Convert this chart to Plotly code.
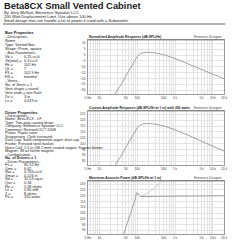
import math
import plotly.graph_objects as go

W = H = 240

# ---------------- data ----------------
doc_title = "Beta8CX Small Vented Cabinet"
doc_sub = [
    "By Jerry McNutt, Eminence Speaker LLC",
    "200 Watt Displacement Limit. Use above 100 Hz.",
    "Small design that can handle a lot of power if used with a Subwoofer.",
]

box_head = "Box Properties"
box_desc = ["--Description--", "Name:", "Type: Vented Box", "Shape: Prism, square", "--Box Parameters--"]
box_names = ["Vb =", "Vb(stat) =", "Fb =", "QL =", "F3 =", "Fill ="]
box_vals = ["0.25 cu.ft", "0.3 cu.ft", "102 Hz", "7", "102.9 Hz", "minimal"]
vent_desc = ["--Vents--", "No. of Vents = 1", "Vent shape = round", "Vent ends = one flush"]
vent_names = ["Dv =", "Lv ="]
vent_vals = ["3 in", "4.619 in"]

drv_head = "Driver Properties"
drv_desc = ["--Description--", "Name: Beta-8CX - LF", "Type: Two-way coaxial driver",
            "Company: Eminence Speaker LLC", "Comment: Revised OCT 2008", "Piston: Paper cone.",
            "Suspension: Cloth surround.", "Dust Cap: Solid composition paper dust cap.",
            "Frame: Pressed steel basket.",
            "Voice Coil: 1.5 in (38.1 mm) coated copper, Kapton former",
            "Magnet: 38 oz ferrite magnet.", "--Configuration--"]
drv_config = "No. of Drivers = 1"
drv_param_head = "--Driver Parameters--"
drv_names = ["Fs =", "Qms =", "Vas =", "Xmax =", "Sd =", "Qes =", "Re =", "Le =", "Z =", "Pe ="]
drv_vals = ["65.52 Hz", "6.62", "0.706 cu.ft", "0.126 in", "32.53 sq.in", "0.34",
            "5.58 ohms", "0.85 mH", "8 ohms", "250 watts"]

chart_titles = ["Normalized Amplitude Response (dB-SPL/Hz)",
                "Custom Amplitude Response (dB-SPL/Hz at 1 m) with 200 watts",
                "Maximum Acoustic Power (dB-SPL/Hz at 1 m)"]
brand = "Eminence Designer"

grid_freqs = [5, 6, 7, 8, 9, 10, 20, 30, 40, 50, 60, 70, 80, 90, 100, 200, 300, 400, 500,
              600, 700, 800, 900, 1000, 2000, 3000, 4000, 5000, 6000, 7000, 8000, 9000,
              10000, 20000]
freq_labels = {5: "5 Hz", 10: "10", 50: "50", 100: "100", 500: "500", 1000: "1 k",
               5000: "5 k", 10000: "10 k", 20000: "20 k"}

y1_ticks = [-30, -25, -20, -15, -10, -5, 0, 5, 10]
y2_ticks = [85, 90, 95, 100, 105, 110, 115, 120, 125]
y3_ticks = [90, 95, 100, 105, 110, 115, 120, 125, 130]

resp_freq = [25, 30, 40, 50, 60, 70, 80, 100, 120, 150, 200, 300, 500, 1000, 2000, 5000, 10000, 20000]
norm_db = [-34, -30.5, -24, -18, -13.5, -9.5, -6, -1.5, 1, 2.2, 2.3, 1.8, 0.3, -3, -7, -12.5, -16.5, -20.3]
spl200_db = [80.8, 84.3, 90.8, 96.8, 101.3, 105.3, 108.8, 113.3, 115.8, 117, 117.1, 116.6, 115.1,
             111.8, 107.8, 102.3, 98.3, 93.5]

maxspl_freq = [44, 50, 60, 70, 80, 90, 96, 105, 115, 122, 20000]
maxspl_db = [86.5, 92, 100, 106.5, 112, 117.5, 122.5, 122, 120, 119.3, 120]
exc_freq = [122, 135, 160, 200, 300, 400, 470]
exc_db = [119.3, 119.8, 121, 123, 127, 130.5, 133.5]

# ---------------- layout helpers ----------------
FONT = "Liberation Sans"
TXT = "#1a1a1a"


def px(x):
    return x / W


def py(y):
    return 1 - y / H


annotations = []
shapes = []


def text(x, y, s, size=3.8, bold=False, anchor="left", color=TXT):
    annotations.append(dict(
        x=px(x), y=py(y), xref="paper", yref="paper", xanchor=anchor, yanchor="middle",
        text=f"<b>{s}</b>" if bold else s, showarrow=False, borderpad=0,
        font=dict(family=FONT, size=size, color=color)))


# header
text(0.5, 5.0, doc_title, size=9.4, bold=True)
for i, s in enumerate(doc_sub):
    text(0.5, 12.8 + i * 4.0, s, size=4.1)
shapes.append(dict(type="line", xref="paper", yref="paper", x0=px(0), x1=px(228),
                   y0=py(24), y1=py(24), line=dict(color="#222", width=0.7)))

# left column
VX = 21
LS = 4.0
y = 33
text(1, y, box_head, bold=True, size=4.0)
for s in box_desc:
    y += LS
    text(1, y, s)
for n, v in zip(box_names, box_vals):
    y += LS
    text(1, y, n)
    text(VX, y, v)
for s in vent_desc:
    y += LS
    text(1, y, s)
for n, v in zip(vent_names, vent_vals):
    y += LS
    text(1, y, n)
    text(VX, y, v)

LS = 3.55
y = 112
text(1, y, drv_head, bold=True, size=4.0)
for s in drv_desc:
    y += LS
    text(1, y, s)
y += LS
text(1, y, drv_config, bold=True)
y += LS
text(1, y, drv_param_head)
for n, v in zip(drv_names, drv_vals):
    y += LS
    text(1, y, n)
    text(VX, y, v)

# charts
XL, XR = 87, 227
frames = [(40, 94), (111, 165), (181, 234)]
yticks = [y1_ticks, y2_ticks, y3_ticks]

fig = go.Figure()

LINE = "#8c8c8c"
fig.add_trace(go.Scatter(x=resp_freq, y=norm_db, mode="lines", line=dict(color=LINE, width=0.8),
                         xaxis="x", yaxis="y", showlegend=False))
fig.add_trace(go.Scatter(x=resp_freq, y=spl200_db, mode="lines", line=dict(color=LINE, width=0.8),
                         xaxis="x2", yaxis="y2", showlegend=False))
fig.add_trace(go.Scatter(x=exc_freq, y=exc_db, mode="lines", line=dict(color="#c4c4c4", width=0.8),
                         xaxis="x3", yaxis="y3", showlegend=False))
fig.add_trace(go.Scatter(x=maxspl_freq, y=maxspl_db, mode="lines", line=dict(color=LINE, width=0.8),
                         xaxis="x3", yaxis="y3", showlegend=False))

layout = {}
for i, ((top, bot), ticks, title) in enumerate(zip(frames, yticks, chart_titles)):
    k = "" if i == 0 else str(i + 1)
    layout["xaxis" + k] = dict(
        type="log", range=[math.log10(5), math.log10(20000)], domain=[px(XL), px(XR)],
        anchor="y" + k, tickvals=grid_freqs,
        ticktext=[freq_labels.get(f, "") for f in grid_freqs],
        showgrid=True, gridcolor="#e3e3e3", gridwidth=0.5, zeroline=False,
        showline=True, linecolor="#9a9a9a", linewidth=0.5, mirror=True,
        ticks="", tickfont=dict(family=FONT, size=3.2, color="#333"), ticklabelstandoff=0)
    pad = 2.8
    layout["yaxis" + k] = dict(
        range=[ticks[0] - 3.2, ticks[-1] + pad], domain=[py(bot), py(top)], anchor="x" + k,
        tickvals=ticks, showgrid=True, gridcolor="#e3e3e3", gridwidth=0.5, zeroline=False,
        showline=True, linecolor="#9a9a9a", linewidth=0.5, mirror=True,
        ticks="", tickfont=dict(family=FONT, size=3.2, color="#333"), ticklabelstandoff=1)
    text(XL, top - 3, title, size=3.35, bold=True)
    text(XR, top - 3, brand, size=3.2, anchor="right", color="#444")
    shapes.append(dict(type="line", xref="paper", yref="paper", x0=px(XL), x1=px(XR),
                       y0=py(top), y1=py(top), line=dict(color="#555", width=0.6)))

fig.update_layout(
    width=W, height=H, margin=dict(l=0, r=0, t=0, b=0),
    paper_bgcolor="white", plot_bgcolor="white",
    annotations=annotations, shapes=shapes, **layout)

fig.write_html("out.html")
